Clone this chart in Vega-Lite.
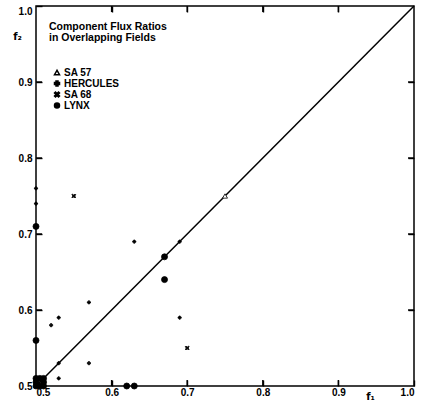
{
  "$schema": "https://vega.github.io/schema/vega-lite/v6.json",
  "width": 378,
  "height": 380,
  "autosize": {"type": "none"},
  "padding": {"left": 36, "top": 6, "right": 15, "bottom": 23},
  "background": "white",
  "datasets": {
    "tickvals": [{"v": 0.6}, {"v": 0.7}, {"v": 0.8}, {"v": 0.9}]
  },
  "config": {
    "view": {"stroke": "black", "strokeWidth": 1.5, "fill": null},
    "font": "Liberation Sans",
    "axis": {
      "grid": false,
      "domain": false,
      "ticks": true,
      "zindex": 2,
      "tickColor": "black",
      "tickOpacity": 1,
      "tickWidth": 1.4,
      "tickSize": 6,
      "offset": -6,
      "labelFont": "Liberation Sans",
      "labelFontWeight": "bold",
      "labelFontSize": 10,
      "labelColor": "black",
      "titleFont": "DejaVu Sans",
      "titleFontWeight": "bold",
      "titleFontSize": 10,
      "titleColor": "black"
    },
    "legend": {
      "titleFont": "Liberation Sans",
      "titleFontSize": 10.5,
      "titleFontWeight": "bold",
      "titleColor": "black",
      "titleLineHeight": 11,
      "titlePadding": 24,
      "labelFont": "Liberation Sans",
      "labelFontSize": 10,
      "labelFontWeight": "bold",
      "labelColor": "black",
      "symbolSize": 25,
      "symbolOffset": 3,
      "labelOffset": 2,
      "rowPadding": -1
    }
  },
  "layer": [
    {
      "data": {"values": [{"f1": 0.5, "f2": 0.5}, {"f1": 1.0, "f2": 1.0}]},
      "mark": {"type": "line", "color": "black", "strokeWidth": 1.5},
      "encoding": {
        "x": {
          "field": "f1", "type": "quantitative",
          "scale": {"domain": [0.5, 1.0], "nice": false, "zero": false},
          "axis": {
            "orient": "bottom",
            "values": [0.5, 0.6, 0.7, 0.8, 0.9, 1.0],
            "format": ".1f",
            "labelPadding": 1,
            "title": "f₁",
            "titleX": 334,
            "titleY": 19,
            "titleAlign": "center",
            "titleBaseline": "alphabetic"
          }
        },
        "y": {
          "field": "f2", "type": "quantitative",
          "scale": {"domain": [0.5, 1.0], "nice": false, "zero": false},
          "axis": {
            "orient": "left",
            "values": [0.5, 0.6, 0.7, 0.8, 0.9, 1.0],
            "format": ".1f",
            "labelPadding": 4,
            "labelBaseline": {"condition": {"test": "datum.value == 1", "value": "top"}, "value": "middle"},
            "title": "f₂",
            "titleAngle": 0,
            "titleX": -25,
            "titleY": 30,
            "titleAlign": "center",
            "titleBaseline": "middle"
          }
        }
      }
    },
    {
      "data": {"name": "tickvals"},
      "mark": {"type": "tick", "orient": "vertical", "color": "black", "opacity": 1, "size": 6, "thickness": 1.4, "yOffset": -3},
      "encoding": {
        "x": {"field": "v", "type": "quantitative", "axis": null},
        "y": {"datum": 0.5, "type": "quantitative", "axis": null}
      }
    },
    {
      "data": {"name": "tickvals"},
      "mark": {"type": "tick", "orient": "vertical", "color": "black", "opacity": 1, "size": 6, "thickness": 1.4, "yOffset": 3},
      "encoding": {
        "x": {"field": "v", "type": "quantitative", "axis": null},
        "y": {"datum": 1.0, "type": "quantitative", "axis": null}
      }
    },
    {
      "data": {"name": "tickvals"},
      "mark": {"type": "tick", "orient": "horizontal", "color": "black", "opacity": 1, "size": 6, "thickness": 1.4, "xOffset": 3},
      "encoding": {
        "y": {"field": "v", "type": "quantitative", "axis": null},
        "x": {"datum": 0.5, "type": "quantitative", "axis": null}
      }
    },
    {
      "data": {"name": "tickvals"},
      "mark": {"type": "tick", "orient": "horizontal", "color": "black", "opacity": 1, "size": 6, "thickness": 1.4, "xOffset": -3},
      "encoding": {
        "y": {"field": "v", "type": "quantitative", "axis": null},
        "x": {"datum": 1.0, "type": "quantitative", "axis": null}
      }
    },
    {
      "data": {
        "values": [
          {"f1": 0.75, "f2": 0.75, "Field": "SA 57"},
          {"f1": 0.69, "f2": 0.69, "Field": "HERCULES"},
          {"f1": 0.63, "f2": 0.69, "Field": "HERCULES"},
          {"f1": 0.69, "f2": 0.59, "Field": "HERCULES"},
          {"f1": 0.50, "f2": 0.76, "Field": "HERCULES"},
          {"f1": 0.50, "f2": 0.74, "Field": "HERCULES"},
          {"f1": 0.57, "f2": 0.61, "Field": "HERCULES"},
          {"f1": 0.53, "f2": 0.59, "Field": "HERCULES"},
          {"f1": 0.52, "f2": 0.58, "Field": "HERCULES"},
          {"f1": 0.53, "f2": 0.53, "Field": "HERCULES"},
          {"f1": 0.57, "f2": 0.53, "Field": "HERCULES"},
          {"f1": 0.53, "f2": 0.51, "Field": "HERCULES"},
          {"f1": 0.70, "f2": 0.55, "Field": "SA 68"},
          {"f1": 0.55, "f2": 0.75, "Field": "SA 68"},
          {"f1": 0.67, "f2": 0.67, "Field": "LYNX"},
          {"f1": 0.67, "f2": 0.64, "Field": "LYNX"},
          {"f1": 0.62, "f2": 0.50, "Field": "LYNX"},
          {"f1": 0.63, "f2": 0.50, "Field": "LYNX"},
          {"f1": 0.50, "f2": 0.71, "Field": "LYNX"},
          {"f1": 0.50, "f2": 0.56, "Field": "LYNX"},
          {"f1": 0.50, "f2": 0.50, "Field": "LYNX"},
          {"f1": 0.505, "f2": 0.50, "Field": "LYNX"},
          {"f1": 0.51, "f2": 0.50, "Field": "LYNX"},
          {"f1": 0.50, "f2": 0.505, "Field": "LYNX"},
          {"f1": 0.51, "f2": 0.51, "Field": "LYNX"},
          {"f1": 0.505, "f2": 0.51, "Field": "LYNX"},
          {"f1": 0.51, "f2": 0.505, "Field": "LYNX"},
          {"f1": 0.50, "f2": 0.51, "Field": "LYNX"}
        ]
      },
      "mark": {"type": "point", "filled": true, "stroke": "black", "strokeWidth": 0.8, "opacity": 1},
      "encoding": {
        "x": {
          "field": "f1", "type": "quantitative",
          "axis": {"orient": "top", "values": [0.6, 0.7, 0.8, 0.9], "labels": false, "title": null}
        },
        "y": {
          "field": "f2", "type": "quantitative",
          "axis": {"orient": "right", "values": [0.6, 0.7, 0.8, 0.9], "labels": false, "title": null}
        },
        "shape": {
          "field": "Field", "type": "nominal",
          "scale": {
            "domain": ["SA 57", "HERCULES", "SA 68", "LYNX"],
            "range": ["triangle-up", "cross", "M-1,-0.6L-0.6,-1L0,-0.4L0.6,-1L1,-0.6L0.4,0L1,0.6L0.6,1L0,0.4L-0.6,1L-1,0.6L-0.4,0Z", "circle"]
          },
          "legend": {
            "orient": "none",
            "legendX": 13,
            "legendY": 16,
            "title": ["Component Flux Ratios", "in Overlapping Fields"],
            "encode": {"symbols": {"update": {"stroke": {"value": "black"}, "strokeWidth": {"value": 0.8}}}}
          }
        },
        "fill": {
          "field": "Field", "type": "nominal",
          "scale": {
            "domain": ["SA 57", "HERCULES", "SA 68", "LYNX"],
            "range": ["white", "black", "black", "black"]
          },
          "legend": {
            "orient": "none",
            "legendX": 13,
            "legendY": 16,
            "title": ["Component Flux Ratios", "in Overlapping Fields"],
            "encode": {"symbols": {"update": {"stroke": {"value": "black"}, "strokeWidth": {"value": 0.8}}}}
          }
        },
        "size": {
          "condition": [
            {"test": "datum.Field == 'LYNX'", "value": 36},
            {"test": "datum.Field == 'HERCULES'", "value": 10},
            {"test": "datum.Field == 'SA 68'", "value": 16}
          ],
          "value": 25
        }
      }
    }
  ],
  "resolve": {"axis": {"x": "independent", "y": "independent"}}
}
